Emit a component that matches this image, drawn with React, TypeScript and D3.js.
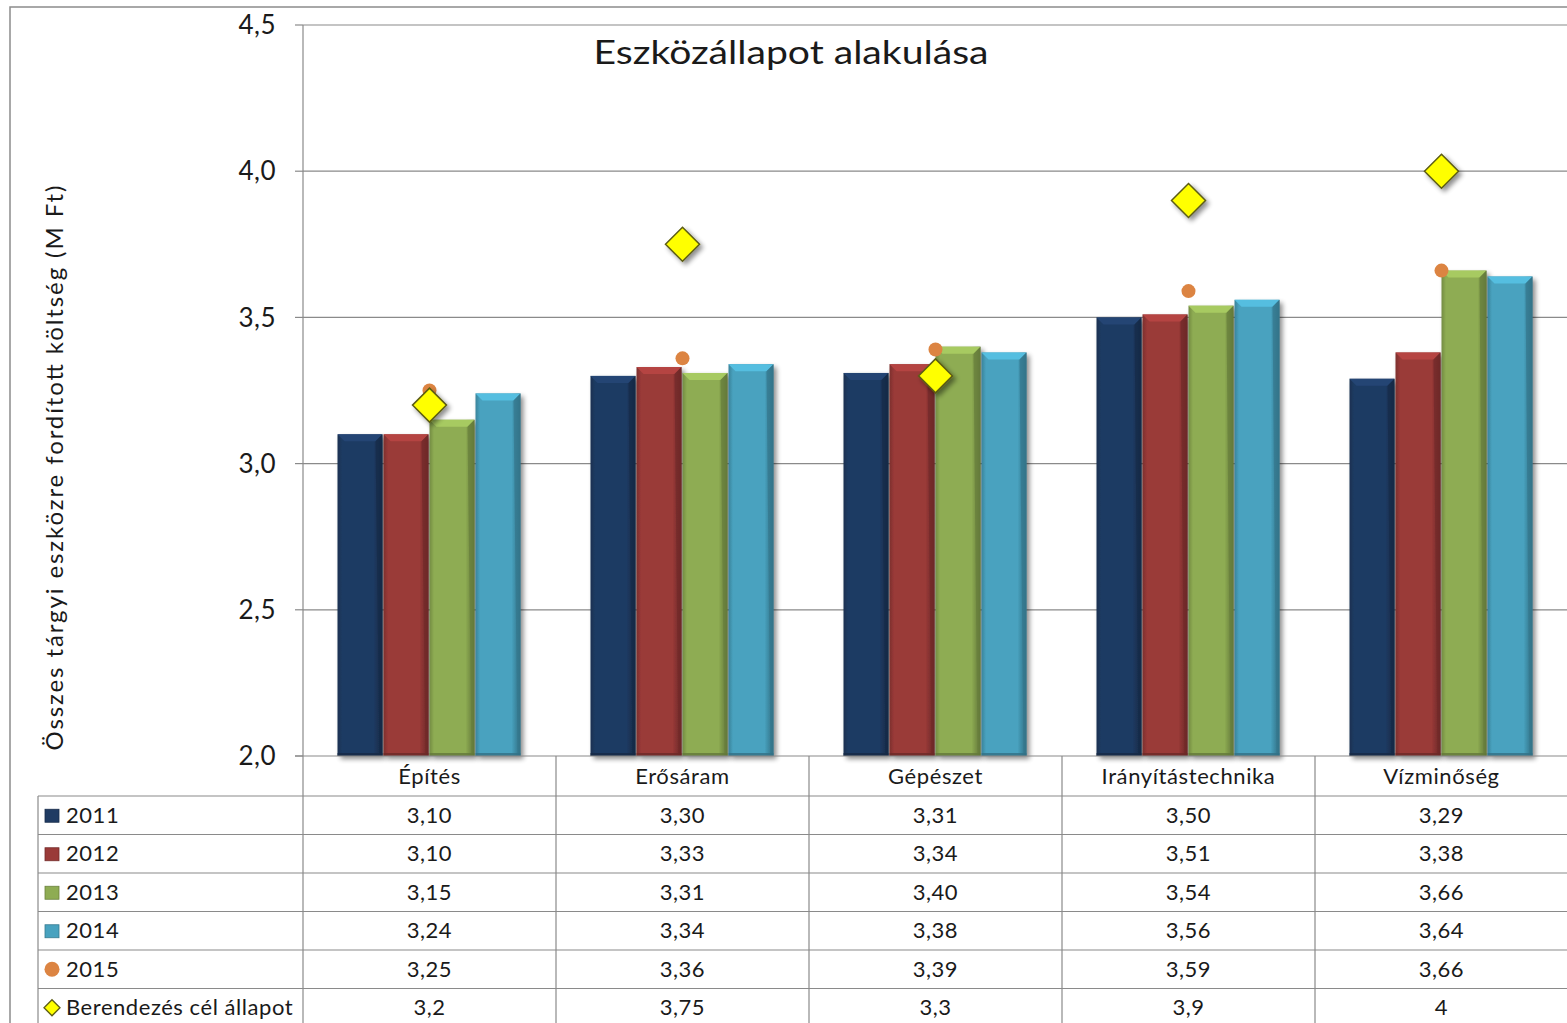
import React from "react";
import * as d3 from "d3";

// Categories and series
const categories = ["Építés", "Erősáram", "Gépészet", "Irányítástechnika", "Vízminőség"];
const barSeries = ["2011", "2012", "2013", "2014"];
const values2011 = [3.10, 3.30, 3.31, 3.50, 3.29];
const values2012 = [3.10, 3.33, 3.34, 3.51, 3.38];
const values2013 = [3.15, 3.31, 3.40, 3.54, 3.66];
const values2014 = [3.24, 3.34, 3.38, 3.56, 3.64];
const values2015 = [3.25, 3.36, 3.39, 3.59, 3.66];
const targetValues = [3.2, 3.75, 3.3, 3.9, 4];
const targetLabels = ["3,2", "3,75", "3,3", "3,9", "4"];
const yTicks = [2.0, 2.5, 3.0, 3.5, 4.0, 4.5];

const barValues = [values2011, values2012, values2013, values2014];
const barColors = ["#1f3b63", "#9a3a38", "#8eac53", "#48a2bf"];
const circleColor = "#dc8442";
const FONT = "Lato, 'Open Sans', sans-serif";
const TEXT = "#1a1a1a";
const GRID = "#8a8a8a";

const W = 1567;
const H = 1023;
const plotLeft = 303;
const plotRight = 1568;
const plotTop = 25;
const plotBottom = 756;
const rowH = 38.5;
const tableLeft = 38;

const fmt2 = (v: number) => v.toFixed(2).replace(".", ",");
const fmt1 = (v: number) => v.toFixed(1).replace(".", ",");

function shade(c: string, k: number) {
  const col = d3.color(c)!;
  return k > 0 ? col.brighter(k).formatHex() : col.darker(-k).formatHex();
}

export default function App() {
  const y = d3.scaleLinear().domain([2, 4.5]).range([plotBottom, plotTop]);
  const x0 = d3.scaleBand<string>().domain(categories).range([plotLeft, plotRight]).padding(0);
  const band = x0.bandwidth();
  const barW = band / (barSeries.length + 1.5);
  const x1 = d3
    .scaleBand<string>()
    .domain(barSeries)
    .range([barW * 0.75, band - barW * 0.75])
    .padding(0);

  const rows = [
    { label: "2011", kind: "bar", color: barColors[0], vals: values2011.map(fmt2) },
    { label: "2012", kind: "bar", color: barColors[1], vals: values2012.map(fmt2) },
    { label: "2013", kind: "bar", color: barColors[2], vals: values2013.map(fmt2) },
    { label: "2014", kind: "bar", color: barColors[3], vals: values2014.map(fmt2) },
    { label: "2015", kind: "circle", color: circleColor, vals: values2015.map(fmt2) },
    { label: "Berendezés cél állapot", kind: "diamond", color: "#ffff00", vals: targetLabels },
  ];
  const headerTop = plotBottom;
  const tableTop = plotBottom + 40;

  return (
    <svg
      width={W}
      height={H}
      style={{ position: "absolute", left: 0, top: 0, background: "#fff" }}
      fontFamily={FONT}
    >
      <defs>
        <filter id="shadow" x="-30%" y="-30%" width="160%" height="160%">
          <feGaussianBlur in="SourceAlpha" stdDeviation="2.5" />
          <feOffset dx="3" dy="3" result="b" />
          <feComponentTransfer>
            <feFuncA type="linear" slope="0.45" />
          </feComponentTransfer>
          <feMerge>
            <feMergeNode />
            <feMergeNode in="SourceGraphic" />
          </feMerge>
        </filter>
        {barColors.map((c, i) => (
          <linearGradient key={i} id={`bg${i}`} x1="0" x2="1" y1="0" y2="0">
            <stop offset="0" stopColor={shade(c, -0.6)} />
            <stop offset="0.1" stopColor={c} />
            <stop offset="0.8" stopColor={c} />
            <stop offset="1" stopColor={shade(c, -1.1)} />
          </linearGradient>
        ))}
      </defs>

      {/* chart frame */}
      <rect x={10} y={7} width={W + 20} height={H + 20} fill="#fff" stroke="#8c8c8c" strokeWidth={1.5} />

      {/* gridlines */}
      {yTicks.slice(1).map((t) => (
        <line key={t} x1={plotLeft} x2={plotRight} y1={y(t)} y2={y(t)} stroke={GRID} strokeWidth={1.2} />
      ))}

      {/* y axis */}
      <line x1={plotLeft} x2={plotLeft} y1={plotTop} y2={H} stroke={GRID} strokeWidth={1.2} />
      {yTicks.map((t) => (
        <g key={t}>
          <line x1={plotLeft - 8} x2={plotLeft} y1={y(t)} y2={y(t)} stroke={GRID} strokeWidth={1.2} />
          <text x={276} y={y(t)} dy="0.35em" textAnchor="end" fontSize={26} letterSpacing={0.5} fill={TEXT}>
            {fmt1(t)}
          </text>
        </g>
      ))}
      <text
        transform={`translate(63, 468) rotate(-90)`}
        textAnchor="middle"
        fontSize={24}
        textLength={565}
        lengthAdjust="spacing"
        fill={TEXT}
      >
        Összes tárgyi eszközre fordított költség  (M Ft)
      </text>

      {/* title */}
      <text x={791} y={64} textAnchor="middle" fontSize={32} textLength={395} lengthAdjust="spacingAndGlyphs" fill={TEXT}>
        Eszközállapot alakulása
      </text>

      {/* bars */}
      {categories.map((cat, ci) => (
        <g key={cat} transform={`translate(${x0(cat)},0)`}>
          {barSeries.map((s, si) => {
            const v = barValues[si][ci];
            const bx = x1(s)!;
            const bw = x1.bandwidth() - 1;
            const top = y(v);
            const h = plotBottom - top;
            const c = barColors[si];
            const bev = 7;
            return (
              <g key={s}>
                <rect x={bx} y={top} width={bw} height={h} fill={`url(#bg${si})`} filter="url(#shadow)" />
                <polygon
                  points={`${bx},${top} ${bx + bw},${top} ${bx + bw - bev},${top + bev} ${bx + bev},${top + bev}`}
                  fill={shade(c, 0.45)}
                />
                <polygon
                  points={`${bx + bw},${top} ${bx + bw},${plotBottom} ${bx + bw - 3},${plotBottom - 3} ${bx + bw - bev},${top + bev}`}
                  fill={shade(c, -0.9)}
                  opacity={0.7}
                />
                <rect x={bx} y={plotBottom - 3} width={bw} height={3} fill={shade(c, -1)} opacity={0.8} />
              </g>
            );
          })}
          <circle cx={band / 2} cy={y(values2015[ci])} r={7} fill={circleColor} />
          <path
            d={`M${band / 2},${y(targetValues[ci]) - 17} l17,17 l-17,17 l-17,-17 Z`}
            fill="#ffff00"
            stroke="#5c5c14"
            strokeWidth={1.5}
            filter="url(#shadow)"
          />
        </g>
      ))}

      {/* x axis */}
      <line x1={plotLeft - 8} x2={plotRight} y1={plotBottom} y2={plotBottom} stroke={GRID} strokeWidth={1.2} />

      {/* data table */}
      {categories.map((cat) => (
        <g key={cat}>
          <line x1={x0(cat)! + band} x2={x0(cat)! + band} y1={headerTop} y2={H} stroke={GRID} strokeWidth={1.2} />
          <text
            x={x0(cat)! + band / 2}
            y={headerTop + 20}
            dy="0.35em"
            textAnchor="middle"
            fontSize={22}
            letterSpacing={0.6}
            fill={TEXT}
          >
            {cat}
          </text>
        </g>
      ))}
      <line x1={tableLeft} x2={tableLeft} y1={tableTop} y2={H} stroke={GRID} strokeWidth={1.2} />
      {rows.map((r, ri) => {
        const ry = tableTop + ri * rowH;
        const cy = ry + rowH / 2;
        return (
          <g key={r.label}>
            <line x1={tableLeft} x2={plotRight} y1={ry} y2={ry} stroke={GRID} strokeWidth={1.2} />
            {r.kind === "bar" && (
              <rect x={45} y={cy - 6} width={14} height={13} fill={r.color} stroke={shade(r.color, -0.8)} strokeWidth={0.8} />
            )}
            {r.kind === "circle" && <circle cx={52} cy={cy} r={7.5} fill={r.color} />}
            {r.kind === "diamond" && (
              <path d={`M52,${cy - 8} l8,8 l-8,8 l-8,-8 Z`} fill="#ffff00" stroke="#5c5c14" strokeWidth={1.3} />
            )}
            <text x={66} y={cy} dy="0.35em" fontSize={22} letterSpacing={0.55} fill={TEXT}>
              {r.label}
            </text>
            {r.vals.map((v, ci) => (
              <text
                key={ci}
                x={x0(categories[ci])! + band / 2}
                y={cy}
                dy="0.35em"
                textAnchor="middle"
                fontSize={22}
                letterSpacing={0.5}
                fill={TEXT}
              >
                {v}
              </text>
            ))}
          </g>
        );
      })}
    </svg>
  );
}
